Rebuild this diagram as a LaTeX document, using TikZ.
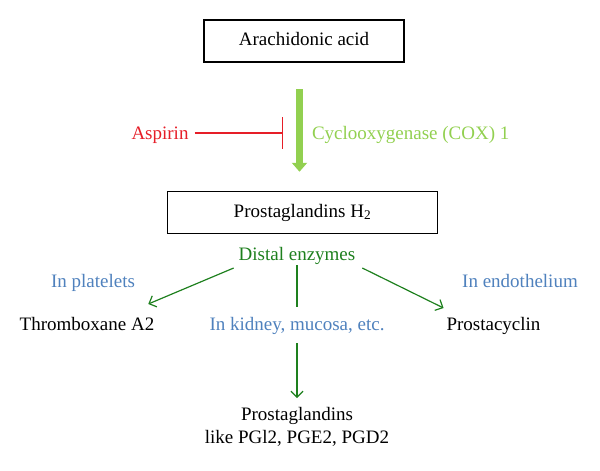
\documentclass[tikz,border=0pt]{standalone}
\usepackage{fontspec}
\setmainfont{Liberation Serif}
\usetikzlibrary{arrows.meta}
\definecolor{inhibred}{RGB}{230,30,40}
\definecolor{coxgreen}{RGB}{146,208,80}
\definecolor{enzgreen}{RGB}{30,128,30}
\definecolor{sitecol}{RGB}{79,129,189}
\begin{document}
\begin{tikzpicture}[x=1pt, y=-1pt,
	font=\fontsize{19}{23}\selectfont,
	lbl/.style={inner sep=0pt, outer sep=0pt, text height=13pt, text depth=4pt, anchor=base},
	site/.style={lbl, text=sitecol},
	box/.style={draw, line width=1.3pt, inner sep=0pt, outer sep=0pt, text height=13pt, text depth=4pt},
	enz/.style={-{Straight Barb[length=6pt,width=12pt]}, enzgreen, line width=1.2pt}]
	       		\useasboundingbox (0,0) rectangle (600,471);
	       		\draw node[box, minimum width=200pt, minimum height=42pt] (arach) at (304,41) {Arachidonic acid};
	       		\draw node[box, minimum width=270pt, minimum height=41.5pt] (pgh2) at (302.5,212.5) {Prostaglandins H\textsubscript{2}};
	       		\draw node[lbl, text=inhibred] (aspirin) at (160,139) {Aspirin};
	       		\draw node[lbl, text=coxgreen, anchor=base west] (cox) at (312,139) {Cyclooxygenase (COX) 1};
	       		\draw node[lbl, text=enzgreen] (distal) at (297,260) {Distal enzymes};
	       		\draw node[site] (platelets) at (93,287) {In platelets};
	       		\draw node[site] (endo) at (520,287) {In endothelium};
	       		\draw node[lbl] (thromb) at (87,330) {Thromboxane A2};
	       		\draw node[site] (kidney) at (297,330) {In kidney, mucosa, etc.};
	       		\draw node[lbl] (prostacyc) at (493.5,330) {Prostacyclin};
	       		\draw node[inner sep=0pt, outer sep=0pt, align=center, anchor=north] 
	       		(prost) at (297,407) {Prostaglandins\\like PGl2, PGE2, PGD2};
	       		\coordinate (block) at (283,133);
	       		\draw[coxgreen, line width=7pt, -{Triangle[length=9pt,width=15pt]}, shorten <=27pt, shorten >=20pt] ([xshift=-4.5pt]arach.south) -- ([xshift=-3pt]pgh2.north);
	       		\draw[inhibred, line width=1.2pt, -{Bar[width=32pt]}, shorten <=6pt] (block -| aspirin.east) -- (block);
	       		\draw[enz] ([shift={(-5,4)}]distal.south west) -- ([shift={(-6,-13)}]thromb.north east);
	       		\draw[enz] ([shift={(7,4)}]distal.south east) -- ([shift={(-3,-9)}]prostacyc.north west);
	       		\draw[enzgreen, line width=1.2pt, shorten <=1pt, shorten >=10pt] (distal) -- (kidney);
	       		\draw[enz, shorten <=9pt, shorten >=9pt] (kidney) -- (prost);
	       	\end{tikzpicture}
\end{document}
